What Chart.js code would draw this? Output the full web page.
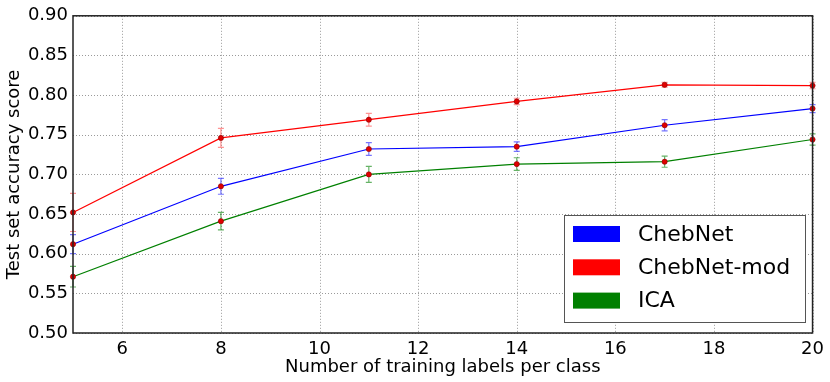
<!DOCTYPE html>
<html>
<head>
<meta charset="utf-8">
<script src="https://cdn.jsdelivr.net/npm/chart.js@4/dist/chart.umd.min.js"></script>
<style>
    html, body { margin: 0; padding: 0; background: #fff; }
    #wrap { width: 830px; height: 382px; }
</style>
</head>
<body>
<div id="wrap"><canvas id="accChart" width="830" height="382"></canvas></div>
<script>
// Data
const trainLabels = [5, 8, 11, 14, 17, 20];
const seriesNames = ['ChebNet', 'ChebNet-mod', 'ICA'];
const chebnetScores = [0.612, 0.685, 0.732, 0.735, 0.762, 0.783];
const chebnetErrors = [0.012, 0.010, 0.008, 0.006, 0.007, 0.005];
const chebnetModScores = [0.652, 0.746, 0.769, 0.792, 0.813, 0.812];
const chebnetModErrors = [0.024, 0.012, 0.008, 0.004, 0.003, 0.004];
const icaScores = [0.571, 0.641, 0.700, 0.713, 0.716, 0.744];
const icaErrors = [0.013, 0.011, 0.010, 0.008, 0.007, 0.007];
const xTicks = [6, 8, 10, 12, 14, 16, 18, 20];
const yTicks = [0.50, 0.55, 0.60, 0.65, 0.70, 0.75, 0.80, 0.85, 0.90];

const FONT = 'DejaVu Sans';

function makeSet(label, color, errColor, scores, errors) {
    return {
        label: label,
        data: trainLabels.map((x, i) => ({ x: x, y: scores[i] })),
        errors: errors,
        errColor: errColor,
        borderColor: color,
        backgroundColor: color,
        borderWidth: 1.2,
        pointRadius: 2.6,
        pointBackgroundColor: '#e00000',
        pointBorderColor: '#8a0000',
        pointBorderWidth: 0.6,
        tension: 0,
        clip: false
    };
}

// dotted grid + error bars, positioned through the scales
const gridAndErrors = {
    id: 'gridAndErrors',
    beforeDatasetsDraw(chart) {
        const ctx = chart.ctx;
        const a = chart.chartArea;
        const xs = chart.scales.x, ys = chart.scales.y;
        ctx.save();
        ctx.strokeStyle = '#9a9a9a';
        ctx.lineWidth = 1;
        ctx.setLineDash([1, 2]);
        xTicks.forEach(v => {
            const px = Math.round(xs.getPixelForValue(v)) + 0.5;
            ctx.beginPath(); ctx.moveTo(px, a.top); ctx.lineTo(px, a.bottom); ctx.stroke();
        });
        yTicks.forEach(v => {
            const py = Math.round(ys.getPixelForValue(v)) + 0.5;
            ctx.beginPath(); ctx.moveTo(a.left, py); ctx.lineTo(a.right, py); ctx.stroke();
        });
        ctx.restore();

        chart.data.datasets.forEach(ds => {
            ctx.save();
            ctx.strokeStyle = ds.errColor;
            ctx.lineWidth = 1.2;
            ds.data.forEach((p, i) => {
                const px = xs.getPixelForValue(p.x);
                const top = ys.getPixelForValue(p.y + ds.errors[i]);
                const bot = ys.getPixelForValue(p.y - ds.errors[i]);
                ctx.beginPath();
                ctx.moveTo(px, top); ctx.lineTo(px, bot);
                ctx.moveTo(px - 3, top); ctx.lineTo(px + 3, top);
                ctx.moveTo(px - 3, bot); ctx.lineTo(px + 3, bot);
                ctx.stroke();
            });
            ctx.restore();
        });
    }
};

// plot frame + legend box inside the axes
const frameAndLegend = {
    id: 'frameAndLegend',
    afterDraw(chart) {
        const ctx = chart.ctx;
        const a = chart.chartArea;
        ctx.save();
        ctx.strokeStyle = '#222';
        ctx.lineWidth = 1.5;
        ctx.strokeRect(a.left, a.top, a.right - a.left, a.bottom - a.top);

        // legend
        const bx = 564.5, by = 215.5, bw = 241, bh = 107;
        ctx.fillStyle = '#fff';
        ctx.fillRect(bx, by, bw, bh);
        ctx.strokeStyle = '#555';
        ctx.lineWidth = 1;
        ctx.strokeRect(bx, by, bw, bh);
        ctx.font = '22px ' + FONT;
        ctx.textBaseline = 'middle';
        chart.data.datasets.forEach((ds, i) => {
            const cy = 234 + i * 33.3;
            ctx.fillStyle = ds.borderColor;
            ctx.fillRect(573, cy - 8, 47, 16);
            ctx.fillStyle = '#000';
            ctx.fillText(ds.label, 638, cy + 1);
        });
        ctx.restore();
    }
};

new Chart(document.getElementById('accChart'), {
    type: 'line',
    data: {
        datasets: [
            makeSet(seriesNames[0], '#0000ff', 'rgba(60,60,255,0.7)', chebnetScores, chebnetErrors),
            makeSet(seriesNames[1], '#ff0000', 'rgba(255,60,60,0.55)', chebnetModScores, chebnetModErrors),
            makeSet(seriesNames[2], '#008000', 'rgba(0,128,0,0.6)', icaScores, icaErrors)
        ]
    },
    options: {
        responsive: false,
        animation: false,
        layout: { padding: { top: 15, right: 16, left: 0, bottom: 0 } },
        plugins: {
            legend: { display: false },
            tooltip: { enabled: false }
        },
        scales: {
            x: {
                type: 'linear',
                min: 5,
                max: 20,
                grid: { display: false, drawTicks: false },
                border: { display: false },
                afterBuildTicks: s => { s.ticks = xTicks.map(v => ({ value: v })); },
                afterFit: s => { s.height = 49; },
                ticks: {
                    color: '#000',
                    padding: 6,
                    font: { family: FONT, size: 18 }
                },
                title: {
                    display: true,
                    text: 'Number of training labels per class',
                    color: '#000',
                    font: { family: FONT, size: 18 },
                    padding: { top: 0, bottom: 4 }
                }
            },
            y: {
                type: 'linear',
                min: 0.5,
                max: 0.9,
                grid: { display: false, drawTicks: false },
                border: { display: false },
                afterBuildTicks: s => { s.ticks = yTicks.map(v => ({ value: v })); },
                afterFit: s => { s.width = 73; },
                ticks: {
                    color: '#000',
                    padding: 5,
                    font: { family: FONT, size: 18 },
                    callback: v => v.toFixed(2)
                },
                title: {
                    display: true,
                    text: 'Test set accuracy score',
                    color: '#000',
                    font: { family: FONT, size: 18 },
                    padding: { top: 4, bottom: 0 }
                }
            }
        }
    },
    plugins: [gridAndErrors, frameAndLegend]
});
</script>
</body>
</html>
